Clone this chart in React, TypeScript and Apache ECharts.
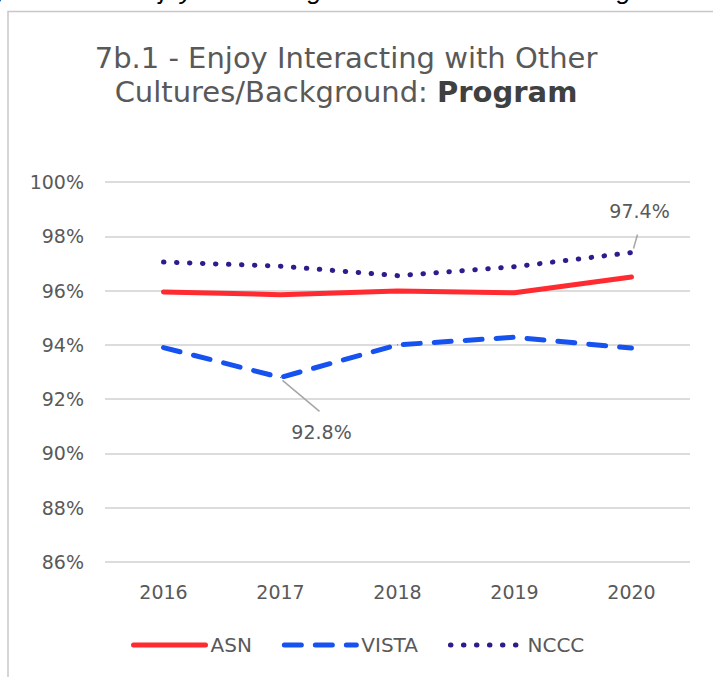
import React, { useEffect, useRef } from "react";
import * as echarts from "echarts";

const categories = ["2016", "2017", "2018", "2019", "2020"];
const asn = [95.95, 95.85, 95.98, 95.92, 96.5];
const vista = [93.9, 92.8, 94.0, 94.28, 93.88];
const nccc = [97.05, 96.9, 96.55, 96.88, 97.4];
const yTicks = { min: 86, max: 100, interval: 2 };
const vistaLabelIndex = 1;
const ncccLabelIndex = 4;

const FONT = "'DejaVu Sans', sans-serif";
const GREY = "#595959";

export default function App() {
  const ref = useRef<HTMLDivElement>(null);
  useEffect(() => {
    if (!ref.current) return;
    const chart = echarts.init(ref.current, undefined, { renderer: "svg" });
    const labelStyle = {
      show: true,
      fontSize: 19,
      color: GREY,
      fontFamily: FONT,
      formatter: (p: any) => `${Number(p.value).toFixed(1)}%`,
    };
    chart.setOption({
      animation: false,
      backgroundColor: "#ffffff",
      title: {
        text: "7b.1 - Enjoy Interacting with Other\nCultures/Background: {b|Program}",
        left: 341,
        top: 36,
        textAlign: "center",
        textStyle: {
          fontFamily: FONT,
          fontSize: 29,
          fontWeight: "normal",
          color: GREY,
          lineHeight: 34,
          rich: {
            b: { fontFamily: FONT, fontSize: 29, fontWeight: "bold", color: "#404040", lineHeight: 34 },
          },
        },
      },
      legend: {
        left: 126,
        top: 630,
        itemWidth: 72,
        itemHeight: 14,
        itemGap: 30,
        itemStyle: { opacity: 0 },
        lineStyle: { width: 5 },
        textStyle: { fontFamily: FONT, fontSize: 20, color: GREY },
        data: ["ASN", "VISTA", "NCCC"],
      },
      grid: { left: 105, right: 23, top: 182, bottom: 115 },
      xAxis: {
        type: "category",
        data: categories,
        boundaryGap: true,
        axisLine: { show: false },
        axisTick: { show: false },
        axisLabel: { fontFamily: FONT, fontSize: 19, color: GREY, margin: 20 },
      },
      yAxis: {
        type: "value",
        min: yTicks.min,
        max: yTicks.max,
        interval: yTicks.interval,
        axisLine: { show: false },
        axisTick: { show: false },
        splitLine: { lineStyle: { color: "#d0d0d0", width: 1.5 } },
        axisLabel: {
          fontFamily: FONT,
          fontSize: 19,
          color: GREY,
          margin: 21,
          formatter: (v: number) => `${v}%`,
        },
      },
      series: [
        {
          name: "ASN",
          type: "line",
          data: asn,
          symbol: "circle",
          symbolSize: 1,
          showSymbol: true,
          color: "#ff2b30",
          lineStyle: { color: "#ff2b30", width: 5, cap: "round", join: "round" },
        },
        {
          name: "VISTA",
          type: "line",
          data: vista.map((v, i) =>
            i === vistaLabelIndex ? { value: v, label: { ...labelStyle, position: "bottom" } } : v
          ),
          symbol: "circle",
          symbolSize: 1,
          showSymbol: true,
          color: "#1652f0",
          lineStyle: { color: "#1652f0", width: 5, type: [17, 14], cap: "round", join: "round" },
          labelLayout: { dx: 41, dy: 40 },
        },
        {
          name: "NCCC",
          type: "line",
          data: nccc.map((v, i) =>
            i === ncccLabelIndex ? { value: v, label: { ...labelStyle, position: "top" } } : v
          ),
          symbol: "circle",
          symbolSize: 1,
          showSymbol: true,
          color: "#2e1b8c",
          lineStyle: { color: "#2e1b8c", width: 5, type: [0.5, 12.5], cap: "round" },
          labelLayout: { dx: 8, dy: -27 },
        },
      ],
    });

    // leader lines, anchored to the data points through the chart's own scales
    const pV = chart.convertToPixel({ seriesIndex: 1 }, [vistaLabelIndex, vista[vistaLabelIndex]]) as number[];
    const pN = chart.convertToPixel({ seriesIndex: 2 }, [ncccLabelIndex, nccc[ncccLabelIndex]]) as number[];
    const leader = { stroke: "#a6a6a6", lineWidth: 1.5 };
    chart.setOption({
      graphic: [
        {
          type: "rect",
          shape: { x: 8, y: 11.5, width: 740, height: 700 },
          style: { fill: "none", stroke: "#c8c8c8", lineWidth: 1.5 },
          silent: true,
        },
        {
          type: "text",
          x: 390,
          y: 3,
          style: {
            text: "Figure 7b.1 \u2013 Enjoy Interacting with Other Cultures/Background: Program",
            font: "italic 26px 'Liberation Sans', sans-serif",
            fill: "#000000",
            textAlign: "center",
            textVerticalAlign: "bottom",
          },
          silent: true,
        },
        {
          type: "line",
          shape: { x1: pV[0] + 2, y1: pV[1] + 3, x2: pV[0] + 39, y2: pV[1] + 34 },
          style: leader,
          silent: true,
        },
        {
          type: "line",
          shape: { x1: pN[0] + 2, y1: pN[1] - 4, x2: pN[0] + 6, y2: pN[1] - 18 },
          style: leader,
          silent: true,
        },
      ],
    });
    return () => chart.dispose();
  }, []);
  return (
    <div
      ref={ref}
      style={{ position: "absolute", left: 0, top: 0, width: 713, height: 677 }}
    />
  );
}
